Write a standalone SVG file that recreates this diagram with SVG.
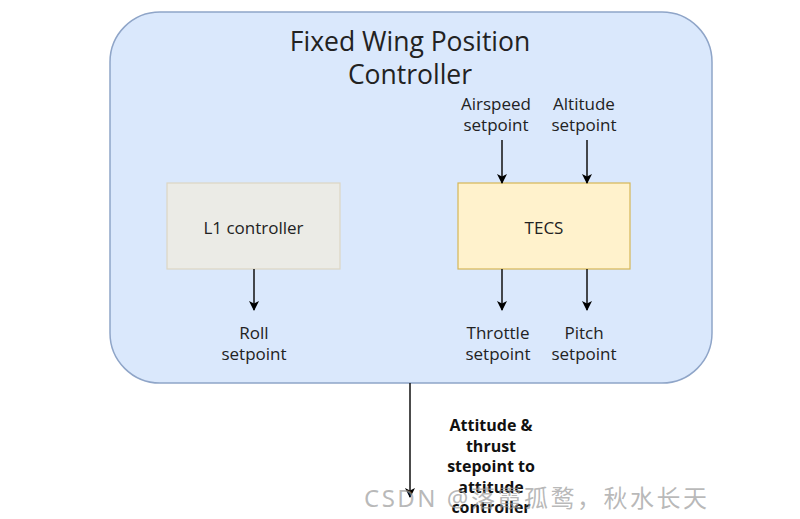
<svg xmlns="http://www.w3.org/2000/svg" width="800" height="519" viewBox="0 0 800 519">
<defs>
<marker id="arr" viewBox="0 0 10 10" refX="9" refY="5" markerWidth="10" markerHeight="10" markerUnits="userSpaceOnUse" orient="auto"><path d="M0,0 L10,5 L0,10 L2.5,5 Z" fill="#000"/></marker>
<style>
.lbl{font-family:"Open Sans","Noto Sans",sans-serif;font-size:17px;fill:#222;text-anchor:middle}
.ttl{font-family:"Open Sans","Noto Sans",sans-serif;font-size:26.5px;fill:#222;text-anchor:middle}
.bold{font-family:"Open Sans","Noto Sans",sans-serif;font-size:16px;font-weight:bold;fill:#111;text-anchor:middle}
.c{stroke:#111;stroke-width:1.5;fill:none;marker-end:url(#arr)}
.wm{font-family:"Noto Sans","Noto Sans CJK SC",sans-serif;font-size:24px;letter-spacing:2.5px;fill:#9a9a9a;fill-opacity:0.7}
</style>
</defs>
<rect width="800" height="519" fill="#fff"/>
<g id="container">
<rect x="110" y="12" width="602" height="371" rx="50" fill="#dae8fc" stroke="#8fa5c8" stroke-width="1.5"/>
<text class="ttl" x="410" y="51">Fixed Wing Position</text>
<text class="ttl" x="410" y="84">Controller</text>
</g>
<g id="l1">
<rect x="167" y="183" width="173" height="86" fill="#ebebe6" stroke="#ddd6c4" stroke-width="1.2"/>
<text class="lbl" x="253.5" y="234">L1 controller</text>
</g>
<g id="tecs">
<rect x="458" y="183" width="172" height="86" fill="#fff2cc" stroke="#d6b656" stroke-width="1.2"/>
<text class="lbl" x="544" y="234">TECS</text>
</g>
<g id="labels">
<text class="lbl" x="496" y="110">Airspeed</text>
<text class="lbl" x="496" y="131">setpoint</text>
<text class="lbl" x="584" y="110">Altitude</text>
<text class="lbl" x="584" y="131">setpoint</text>
<text class="lbl" x="254" y="339">Roll</text>
<text class="lbl" x="254" y="360">setpoint</text>
<text class="lbl" x="498" y="339">Throttle</text>
<text class="lbl" x="498" y="360">setpoint</text>
<text class="lbl" x="584" y="339">Pitch</text>
<text class="lbl" x="584" y="360">setpoint</text>
<text class="bold" x="491" y="431">Attitude &amp;</text>
<text class="bold" x="491" y="451.5">thrust</text>
<text class="bold" x="491" y="472">stepoint to</text>
<text class="bold" x="491" y="492.5">attitude</text>
<text class="bold" x="491" y="513">controller</text>
</g>
<g id="connectors">
<line class="c" x1="502" y1="140" x2="502" y2="183"/>
<line class="c" x1="587" y1="140" x2="587" y2="183"/>
<line class="c" x1="254" y1="269" x2="254" y2="310"/>
<line class="c" x1="502" y1="269" x2="502" y2="310"/>
<line class="c" x1="587" y1="269" x2="587" y2="310"/>
<line class="c" x1="410" y1="383" x2="410" y2="497"/>
</g>
<text class="wm" x="364" y="507">CSDN @落霞孤鹜，秋水长天</text>
</svg>
